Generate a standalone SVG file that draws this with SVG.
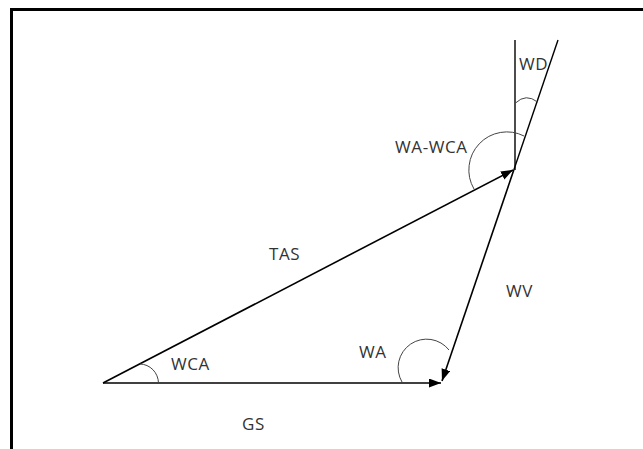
<svg xmlns="http://www.w3.org/2000/svg" width="643" height="449" viewBox="0 0 643 449">
  <style>
    .vec { stroke: #000; stroke-width: 1.6; fill: none; }
    .ref { stroke: #000; stroke-width: 1.4; fill: none; }
    .arc { stroke: #444; stroke-width: 1; fill: none; }
    .lbl { font-family: "Open Sans", "Liberation Sans", sans-serif; font-size: 17px; letter-spacing: 0.6px; fill: #333; }
  </style>
  <defs>
    <marker id="arrow" markerUnits="userSpaceOnUse" markerWidth="13" markerHeight="10" refX="12" refY="4.5" orient="auto">
      <path d="M0,0 L12,4.5 L0,9 Z" fill="#000"/>
    </marker>
  </defs>
  <rect width="643" height="449" fill="#fff"/>
  <path id="frame" d="M11.5,449 V9.5 H643" stroke="#000" stroke-width="3" fill="none"/>

  <g id="connectors">
    <line id="north" class="ref" x1="515" y1="40" x2="515" y2="170"/>
    <line id="wind-dir" class="ref" x1="558" y1="40" x2="513.8" y2="170"/>
    <line id="TAS" class="vec" x1="103" y1="383" x2="513" y2="170" marker-end="url(#arrow)"/>
    <line id="WV" class="vec" x1="513.8" y1="170" x2="442" y2="381" marker-end="url(#arrow)"/>
    <line id="GS" class="vec" x1="103" y1="383" x2="441" y2="383" marker-end="url(#arrow)"/>
  </g>

  <g id="angle-WD">
    <path class="arc" d="M515.5,103 Q526,93 537.5,102"/>
    <text class="lbl" x="519" y="70">WD</text>
  </g>
  <g id="angle-WA-WCA">
    <path class="arc" d="M524,136 A38 38 0 0 0 474,189"/>
    <text class="lbl" x="395" y="153">WA-WCA</text>
  </g>
  <g id="label-TAS">
    <text class="lbl" x="269" y="260">TAS</text>
  </g>
  <g id="label-WV">
    <text class="lbl" x="506" y="297">WV</text>
  </g>
  <g id="angle-WA">
    <path class="arc" d="M402,382 A28.5 28.5 0 0 1 449,350"/>
    <text class="lbl" x="359" y="358">WA</text>
  </g>
  <g id="angle-WCA">
    <path class="arc" d="M140,364 A19 19.5 0 0 1 158.5,383"/>
    <text class="lbl" x="171" y="370">WCA</text>
  </g>
  <g id="label-GS">
    <text class="lbl" x="242" y="430">GS</text>
  </g>
</svg>
